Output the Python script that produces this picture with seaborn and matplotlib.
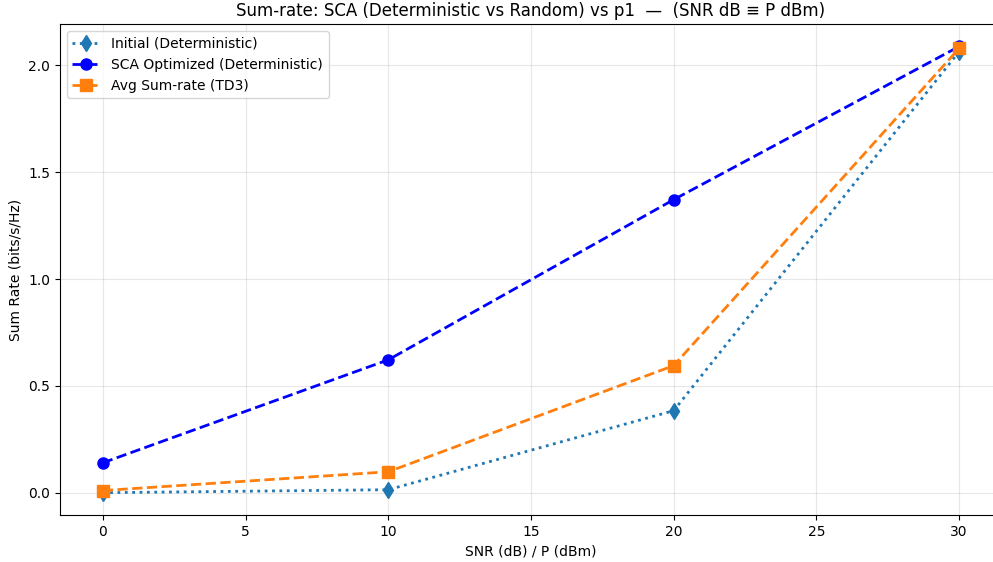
import numpy as np
import pandas as pd
import matplotlib
matplotlib.use("Agg")
import matplotlib.pyplot as plt
import seaborn as sns

# data
snr_db = [0, 10, 20, 30]
initial_det = [0.0, 0.014, 0.384, 2.065]
sca_opt_det = [0.14, 0.622, 1.372, 2.089]
avg_td3 = [0.01, 0.098, 0.595, 2.08]

fig, ax = plt.subplots(figsize=(9.93, 5.62), dpi=100)

sns.lineplot(x=snr_db, y=initial_det, ax=ax, color="tab:blue", linestyle=":",
             marker="d", markersize=8, lw=2, mec="tab:blue", mew=1,
             label="Initial (Deterministic)")
sns.lineplot(x=snr_db, y=sca_opt_det, ax=ax, color="blue", linestyle="--",
             marker="o", markersize=8, lw=2, mec="blue", mew=1,
             label="SCA Optimized (Deterministic)")
sns.lineplot(x=snr_db, y=avg_td3, ax=ax, color="tab:orange", linestyle="--",
             marker="s", markersize=8, lw=2, mec="tab:orange", mew=1,
             label="Avg Sum-rate (TD3)")

ax.set_title("Sum-rate: SCA (Deterministic vs Random) vs p1  \u2014  (SNR dB \u2261 P dBm)",
             fontsize=12)
ax.set_xlabel("SNR (dB) / P (dBm)")
ax.set_ylabel("Sum Rate (bits/s/Hz)")
ax.grid(alpha=0.3)
ax.legend(loc="upper left")

# axes runs slightly past the right edge like in the reference
fig.subplots_adjust(left=0.0604, right=1.009, top=0.957, bottom=0.0836)
fig.savefig("out.png", dpi=100)
